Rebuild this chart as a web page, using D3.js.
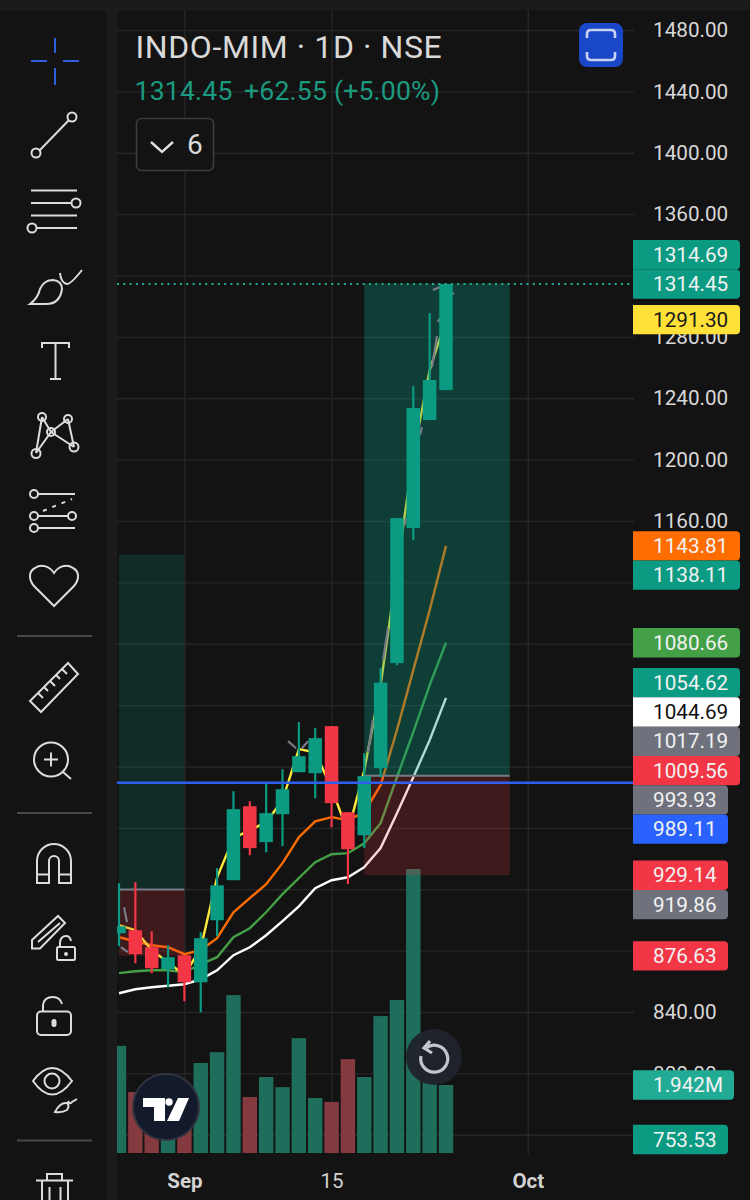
<!DOCTYPE html>
<html><head><meta charset="utf-8">
<script src="https://cdn.jsdelivr.net/npm/d3@7"></script>
<style>html,body{margin:0;padding:0;background:#1b1b1b}svg{display:block;font-family:Roboto,sans-serif}</style>
</head><body><div id="c"></div>
<script>
// ---------- data ----------
const bars = ["Aug 26","Aug 27","Aug 28","Aug 29","Sep 1","Sep 2","Sep 3","Sep 4","Sep 5","Sep 8","Sep 9","Sep 10","Sep 11","Sep 12","Sep 15","Sep 16","Sep 17","Sep 18","Sep 19","Sep 22","Sep 23"];
const open  = [891.3,893.3,882.2,867.9,877,859.4,899.8,925.9,974.1,950.7,968.9,996.3,995.6,1026.3,970.2,955.2,998.9,1067.4,1155.4,1225.8,1245.3];
const close = [895.9,877.7,868.5,875.7,859.4,888.1,922.6,972.2,946.8,969.6,985.2,1006.7,1018.5,976.1,946.1,993.7,1054.62,1161.9,1233.6,1251.9,1314.45];
const high  = [923.9,924.6,892.6,883.5,877,892,933.7,983.9,977.4,989.1,998.2,1028.9,1025,1026.3,970.2,1008.7,1064.1,1161.9,1247.9,1295.5,1314.45];
const low   = [882.9,871.8,865.3,856.1,847,839.8,889.4,925.9,942.2,944.1,948.1,996.3,979.3,960.4,923.3,946.8,993,1066,1147.5,1225.8,1245.3];
const volume = [3.06,1.74,1.45,1.29,1.43,2.57,2.88,4.51,1.6,2.17,1.88,3.28,1.57,1.46,2.68,2.17,3.91,4.37,8.11,2.03,1.942];
const maYellow = [896.6,893.3,880.3,872.4,864,881.6,927.8,953.3,958.5,963.7,978,1011.3,1009.3,985.9,957.2,997.6,1053,1128,1203,1258.4,1291.3];
const maOrange = [888.7,886.1,883.5,882.2,877.7,880.3,888.1,905,914.2,923.3,937,953.9,964.3,967,965,970.2,987.8,1023.7,1062.8,1101.9,1143.81];
const maGreen  = [865.3,866.6,867.2,867.2,865.9,871.1,875.7,888.7,894.6,905,916.8,927.2,937.6,942.8,943.5,950,963,993,1022.4,1053,1080.66];
const maWhite  = [852.2,854.8,856.1,857.1,858.1,861.3,867.2,877,882.2,890,899.2,908.9,920.7,925.9,927.8,934.4,946.8,969.6,993,1017.19,1044.69];
const grayBits = [[[0.31,908.3],[0.49,898.5]],[[0.12,882.2],[0.55,879]],[[10.34,1016.5],[10.83,1011.9]],[[11.19,1011.9],[11.56,1016.5]],[[15.23,1009.3],[15.53,1030.2]],[[16.15,1069.3],[16.45,1090.2]],[[17.49,1157.3],[17.55,1161.9]],[[18.41,1216],[18.53,1221.2]],[[19.14,1260.3],[19.45,1280.5]],[[19.51,1289.6],[19.63,1292.3]],[[19.2,1310.5],[19.63,1312.5]],[[20.24,1309.2],[20.49,1307.9]]];
const priceTicks = [1480,1440,1400,1360,1320,1280,1240,1200,1160,1120,1080,1040,1000,960,920,880,840,800,760];
const labelledTicks = [1480,1440,1400,1360,1280,1240,1200,1160,840,800];
const timeTicks = [4,13,25];
const timeLabels = ["Sep","15","Oct"];
const timeBold = [true,false,true];
const longZone = {from:15,to:23.9,target:1314.69,entry:993.93,stop:929.14};
const oldZone  = {from:0,to:4,target:1138.11,entry:919.86,stop:876.63};
const linePrice = 989.11, lastPrice = 1314.45;
const tagText  = ["1314.69","1314.45","1291.30","1143.81","1138.11","1080.66","1054.62","1044.69","1017.19","1009.56","993.93","989.11","929.14","919.86","876.63","753.53"];
const tagFill  = ["#0b9a82","#0b9a82","#ffe138","#ff6d00","#0b9a82","#43a047","#0b9a82","#ffffff","#6f727d","#f23645","#6f727d","#2962ff","#f23645","#6f727d","#f23645","#0b9a82"];
const tagInk   = ["#f2f2f2","#f2f2f2","#1a1a1a","#f2f2f2","#f2f2f2","#f2f2f2","#f2f2f2","#111111","#f2f2f2","#f2f2f2","#f2f2f2","#f2f2f2","#f2f2f2","#f2f2f2","#f2f2f2","#f2f2f2"];
const volTag = {text:"1.942M", value:1.942, fill:"#22ab94"};

// ---------- scales ----------
const svg = d3.select("#c").append("svg").attr("width",750).attr("height",1200);
const x = d3.scaleLinear().domain([0,20]).range([119,446]);
const y = d3.scaleLinear().domain([1480,840]).range([30,1012]);
const yVol = d3.scaleLinear().domain([0,1.942]).range([1153,1085]);
const bw = 13.5, vw = 14.4;
const GREEN="#0b9a82", RED="#f23645";
const isUp = i => close[i] >= open[i];

// ---------- panels ----------
svg.append("rect").attr("width",750).attr("height",1200).attr("fill","#1b1b1b");
svg.append("rect").attr("x",-10).attr("y",10).attr("width",117).attr("height",1200).attr("rx",8).attr("fill","#131313");
svg.append("rect").attr("x",117).attr("y",10).attr("width",643).attr("height",1200).attr("rx",8).attr("fill","#131313");
svg.append("defs").append("clipPath").attr("id","plot").append("rect").attr("x",117).attr("y",10).attr("width",517).attr("height",1144);
const plot = svg.append("g").attr("clip-path","url(#plot)");

// ---------- grid ----------
const gy = plot.append("g").attr("transform","translate(634,0)")
  .call(d3.axisLeft(y).tickValues(priceTicks).tickSize(517).tickFormat(""));
gy.select(".domain").remove(); gy.selectAll("line").attr("stroke","#262626").attr("stroke-width",1.4);
const gx = plot.append("g").attr("transform","translate(0,1154)")
  .call(d3.axisTop(x).tickValues(timeTicks).tickSize(1144).tickFormat(""));
gx.select(".domain").remove(); gx.selectAll("line").attr("stroke","#262626").attr("stroke-width",1.4);

// ---------- volume ----------
plot.append("g").selectAll("rect").data(volume).join("rect")
  .attr("x",(d,i)=>x(i)-vw/2).attr("width",vw)
  .attr("y",d=>yVol(d)).attr("height",d=>yVol(0)-yVol(d))
  .attr("fill",(d,i)=>isUp(i)?"#1f6e5c":"#853a40");

// ---------- moving averages ----------
const line = d3.line().x((d,i)=>x(i)).y(d=>y(d)).curve(d3.curveLinear);
[[maWhite,"#ffffff"],[maGreen,"#43a047"],[maOrange,"#ff6d00"],[maYellow,"#ffeb3b"]].forEach(([s,c])=>{
  plot.append("path").attr("d",line(s)).attr("fill","none").attr("stroke",c).attr("stroke-width",2.4);
});

// ---------- position zones ----------
function zone(z,gA,rA){
  const X0=x(z.from),X1=x(z.to);
  plot.append("rect").attr("x",X0).attr("width",X1-X0).attr("y",y(z.target)).attr("height",y(z.entry)-y(z.target)).attr("fill","#089981").attr("fill-opacity",gA);
  plot.append("rect").attr("x",X0).attr("width",X1-X0).attr("y",y(z.entry)).attr("height",y(z.stop)-y(z.entry)).attr("fill","#f23645").attr("fill-opacity",rA);
  plot.append("line").attr("x1",X0).attr("x2",X1).attr("y1",y(z.entry)).attr("y2",y(z.entry)).attr("stroke","#787b86").attr("stroke-width",2);
}
zone(oldZone,0.19,0.2);
zone(longZone,0.33,0.2);

// ---------- gray dashes ----------
const gl = d3.line().x(d=>x(d[0])).y(d=>y(d[1]));
plot.append("g").selectAll("path").data(grayBits).join("path").attr("d",gl).attr("stroke","#787b86").attr("stroke-width",2.2).attr("fill","none");

// ---------- candles ----------
const cg = plot.append("g").selectAll("g").data(bars).join("g");
cg.append("rect").attr("x",(d,i)=>x(i)-1.1).attr("width",2.2)
  .attr("y",(d,i)=>y(high[i])).attr("height",(d,i)=>y(low[i])-y(high[i]))
  .attr("fill",(d,i)=>isUp(i)?GREEN:RED);
cg.append("rect").attr("x",(d,i)=>x(i)-bw/2).attr("width",bw)
  .attr("y",(d,i)=>y(Math.max(open[i],close[i]))).attr("height",(d,i)=>Math.abs(y(open[i])-y(close[i])))
  .attr("fill",(d,i)=>isUp(i)?GREEN:RED);

// ---------- horizontal lines ----------
plot.append("line").attr("x1",117).attr("x2",634).attr("y1",y(linePrice)-0.5).attr("y2",y(linePrice)-0.5).attr("stroke","#2f5ff0").attr("stroke-width",2.6);
plot.append("line").attr("x1",117).attr("x2",634).attr("y1",y(lastPrice)).attr("y2",y(lastPrice)).attr("stroke","#22ab94").attr("stroke-width",2).attr("stroke-dasharray","2 4.3");

// ---------- axes ----------
const ay = svg.append("g").attr("transform","translate(653,0)")
  .call(d3.axisRight(y).tickValues(labelledTicks).tickSize(0).tickPadding(0).tickFormat(d=>d.toFixed(2)));
ay.select(".domain").remove();
ay.selectAll("text").attr("fill","#d8d8d8").attr("font-size",20.7).attr("font-family","Roboto");
const ax = svg.append("g").attr("transform","translate(0,1173)")
  .call(d3.axisBottom(x).tickValues(timeTicks).tickSize(0).tickPadding(0).tickFormat((d,i)=>timeLabels[i]));
ax.select(".domain").remove();
ax.selectAll("text").attr("fill","#d2d2d2").attr("font-size",20.5).attr("font-family","Roboto").attr("font-weight",(d,i)=>timeBold[i]?700:400);

// ---------- price tags ----------
const H=29.3;
const pin = tagText.indexOf("1314.45");
const pos = tagText.map(t=>y(+t));
for(let i=pin-1;i>=0;i--) pos[i]=Math.min(pos[i],pos[i+1]-H);
for(let i=pin+1;i<pos.length;i++) if(pos[i]<pos[i-1]+H) pos[i]=pos[i-1]+H;
pos[pos.length-1]=Math.min(pos[pos.length-1],1139.5);
const tagPath=(yc,w)=>`M633,${yc-H/2}H${633+w-4}q4,0 4,4V${yc+H/2-4}q0,4 -4,4H633Z`;
function tag(text,yc,fill,ink){
  const w = text.endsWith("M")?101:(text.length>=7?107:95);
  svg.append("path").attr("d",tagPath(yc,w)).attr("fill",fill);
  svg.append("text").attr("x",653).attr("y",yc+7.2).attr("font-size",20.7).attr("fill",ink).text(text);
}
tagText.forEach((t,i)=>tag(t,pos[i],tagFill[i],tagInk[i]));
tag(volTag.text,yVol(volTag.value),volTag.fill,"#f2f2f2");

// ---------- header ----------
svg.append("text").attr("x",135.5).attr("y",58).attr("font-size",32).attr("letter-spacing",0.6).attr("fill","#d9d9d9").text("INDO-MIM · 1D · NSE");
const h2=svg.append("text").attr("y",100).attr("font-size",26.6).attr("letter-spacing",0.2).attr("fill","#1c9a80");
h2.append("tspan").attr("x",134.5).text("1314.45");
h2.append("tspan").attr("x",244).text("+62.55 (+5.00%)");
svg.append("rect").attr("x",136.5).attr("y",118.5).attr("width",77).attr("height",52).attr("rx",5).attr("fill","#131313").attr("stroke","#3b3d45").attr("stroke-width",1.6);
svg.append("path").attr("d","M151,142l11,10l11,-10").attr("fill","none").attr("stroke","#e0e0e0").attr("stroke-width",2.4);
svg.append("text").attr("x",187).attr("y",154).attr("font-size",28).attr("fill","#d9d9d9").text("6");
svg.append("rect").attr("x",579).attr("y",23).attr("width",44).attr("height",44).attr("rx",8).attr("fill","#1a46c8");
svg.append("path").attr("d","M587,38v-4q0,-4 4,-4h20q4,0 4,4v4M587,52v4q0,4 4,4h20q4,0 4,-4v-4").attr("fill","none").attr("stroke","#c8d3f2").attr("stroke-width",2.6);

// ---------- floating buttons ----------
svg.append("circle").attr("cx",166).attr("cy",1107).attr("r",33).attr("fill","#131a2b").attr("stroke","#30343f").attr("stroke-width",2);
svg.append("path").attr("d","M143,1098H165V1121H154V1107H143ZM178,1098H189L179,1121H167Z").attr("fill","#ffffff");
svg.append("circle").attr("cx",169).attr("cy",1102).attr("r",3.7).attr("fill","#ffffff");
svg.append("circle").attr("cx",434).attr("cy",1057).attr("r",28).attr("fill","#20232c").attr("fill-opacity",.96);
svg.append("path").attr("d","M426,1048A13.5,13.5 0 1 1 421,1056").attr("fill","none").attr("stroke","#c2c4ca").attr("stroke-width",3.2);
svg.append("path").attr("d","M430,1041L424,1048L432,1053").attr("fill","none").attr("stroke","#c2c4ca").attr("stroke-width",3.2);

// ---------- toolbar ----------
const tb = svg.append("g").attr("fill","none").attr("stroke","#dcdcdc").attr("stroke-width",2);
const P=(d,o={})=>{const p=tb.append("path").attr("d",d);for(const k in o)p.attr(k,o[k]);return p;};
const C=(cx,cy,r)=>tb.append("circle").attr("cx",cx).attr("cy",cy).attr("r",r);
P("M55,38V53M55,68V85M31,61H47M63,61H79",{stroke:"#2f5fe0"});
P("M39,151L69,120");C(36,153,4.5);C(72,117,4.5);
P("M31,190.5H77M31,203H71M31,215.5H77M37,228H77");C(76,203,4.5);C(32,228,4.5);
P("M60,273Q61,283 67,284Q71,284 82,270");
P("M30,304Q38,298 40,289Q44,280 53,280Q62,281 62,289Q60,304 46,304Z");
P("M42,348V343H69V348M55.5,343V379M50,379H61");
P("M42,417L36,453M42,417L51,432M51,432L36,453M51,432L68,419M68,419L74,447M51,432L74,447");
C(42,417,4);C(68,419,4);C(36,453.5,4.5);C(74,447,4.5);C(51,432,4);
P("M38,494H75M38,516H68M38,528H75");C(34,494,4);C(34,516,4);C(72,516,4);C(34,528,4);
P("M43,511L72,499",{"stroke-dasharray":"4 6"});
P("M54,606L34,586C28,579 29,571 35,568C42,563 50,567 54,573C58,567 66,563 73,568C79,571 80,579 74,586Z");
P("M17,636H92M17,813H92M17,1140.5H92",{stroke:"#45474e"});
P("M30,701L41,712L78,674L68,663Z");
P("M38,693l5,5M44,687l4,4M50,681l5,5M56,675l4,4M62,669l5,5");
C(51,759.5,17);P("M51,752.5V766.5M44,759.5H58M63,772L71,779");
P("M37,883V861A17,17 0 0 1 71,861V883H59V861A5,5 0 0 0 49,861V883ZM37,874.5H49M59,874.5H71");
P("M32,940L58,916L65,923L40,948.5L32,948.5ZM38,942L60,923");
tb.append("rect").attr("x",57).attr("y",947).attr("width",18).attr("height",13).attr("rx",1.5);
P("M60,947V942Q61,936 66,936Q70,936 71,941");C(66,954,1).attr("fill","#dcdcdc");
tb.append("rect").attr("x",37).attr("y",1011.5).attr("width",34).attr("height",23.5).attr("rx",4);
P("M43,1011V1005Q44,997 53,997Q60,997 62,1004");
tb.append("rect").attr("x",52.5).attr("y",1020).attr("width",3).attr("height",6).attr("rx",1.5).attr("fill","#dcdcdc");
P("M33,1081Q52,1055 72,1081Q52,1108 33,1081Z");C(52,1081,7.5);
P("M55,1112Q60,1102 67,1103Q70,1106 67,1110Q62,1113 55,1112ZM68,1101Q70,1105 72,1102L77,1099");
P("M36,1180.5H73M47,1180V1174H62V1180M42,1181V1200M68,1181V1200M49.5,1187V1200M60.5,1187V1200");
</script></body></html>
